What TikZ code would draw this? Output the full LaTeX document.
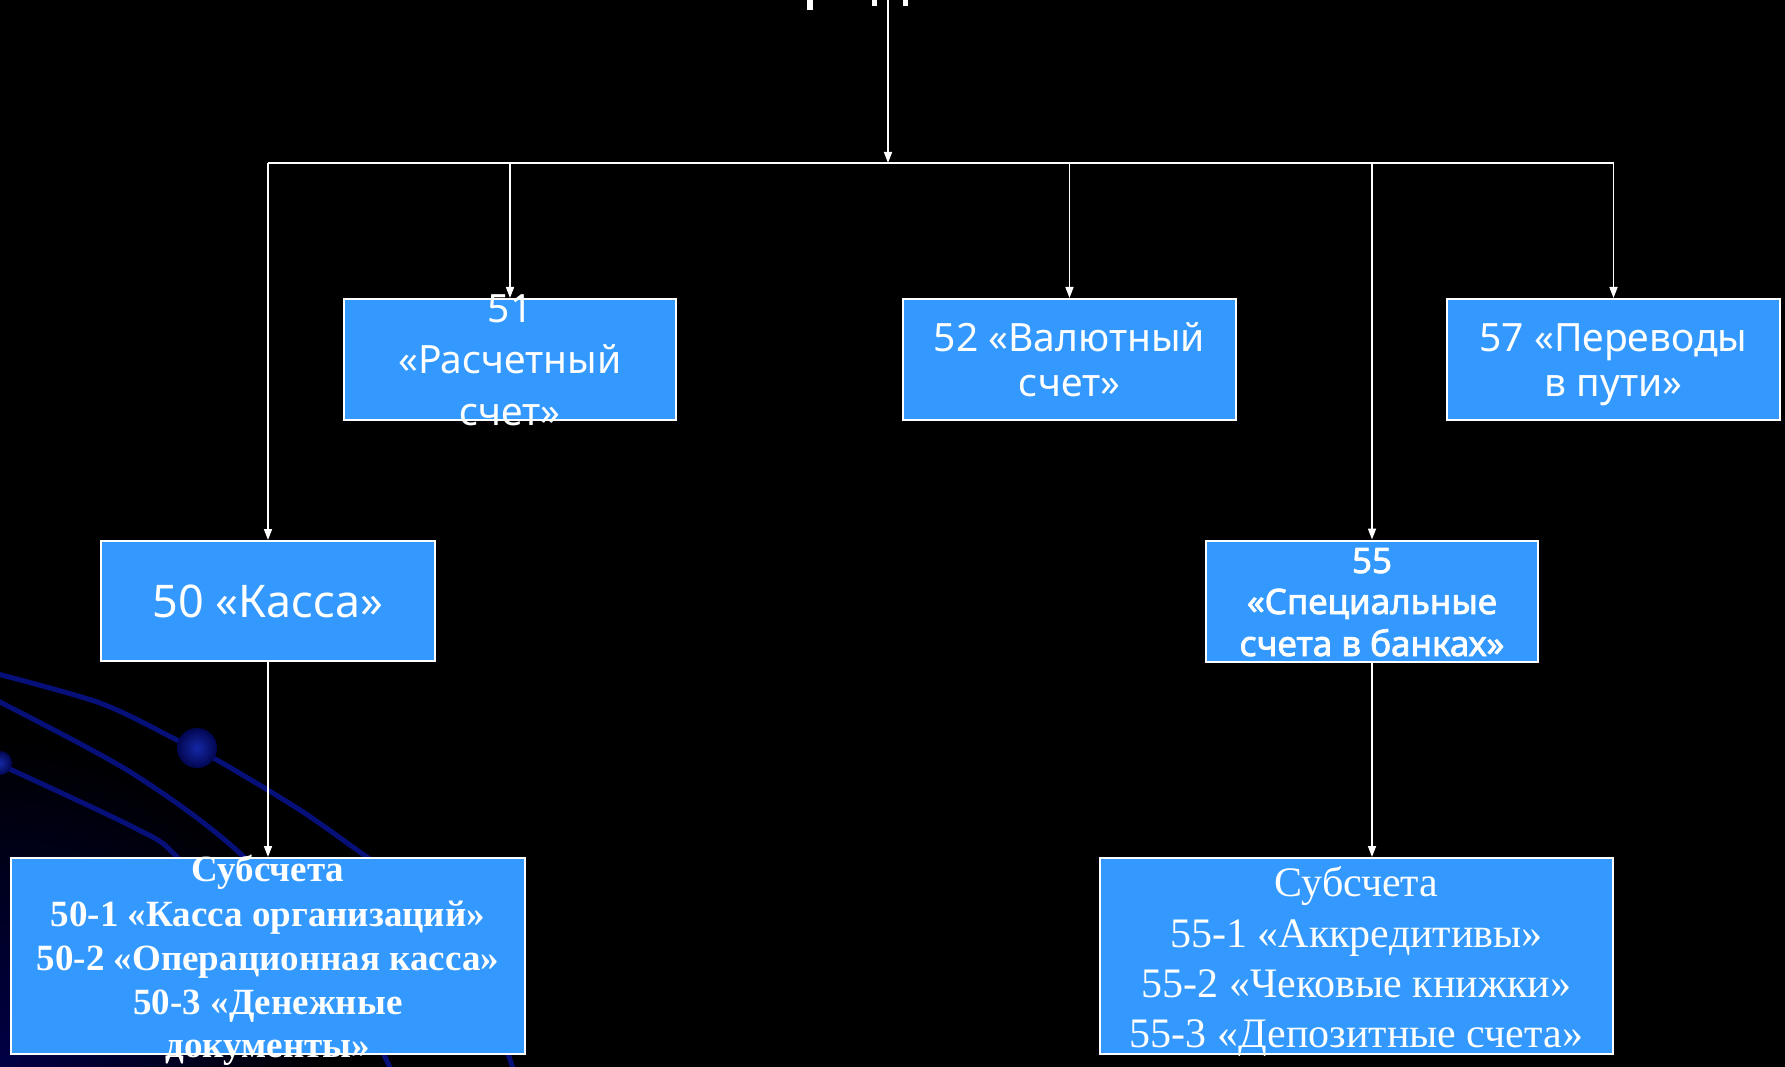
\documentclass[tikz,border=0pt]{standalone}
\usepackage{fontspec}
\setmainfont{Liberation Serif}
\newfontfamily\boxfont{Noto Sans}
\newfontfamily\boxfontb{Noto Sans}[FakeBold=2.2]
\usetikzlibrary{arrows.meta}
\definecolor{boxblue}{RGB}{51,153,255}
\definecolor{arcblue}{RGB}{7,16,120}
\definecolor{navy}{RGB}{0,0,70}
\definecolor{ballblue}{RGB}{20,40,165}
\definecolor{balldark}{RGB}{2,6,80}
\tikzset{
  acct/.style 2 args={draw=white, line width=2pt, fill=boxblue, inner sep=0pt,
    minimum width=#1, minimum height=#2},
  txt/.style={text=white, inner sep=0pt, anchor=base},
  cfont/.style={font=\boxfont\fontsize{39}{46}\selectfont},
  kfont/.style={font=\boxfont\fontsize{45}{52}\selectfont},
  bfont/.style={font=\boxfontb\fontsize{35}{42}\selectfont},
  sfontb/.style={font=\bfseries\fontsize{37}{44}\selectfont},
  sfont/.style={font=\fontsize{42}{50}\selectfont},
  conn/.style={draw=white, line width=1.6pt},
  arr/.style={conn, -{Triangle[length=11pt,width=8pt]}},
  orbit/.style={draw=arcblue, line width=5pt, line cap=round},
}
\begin{document}
\begin{tikzpicture}[x=1pt,y=-1pt]
\useasboundingbox (0,0) rectangle (1785,1067);
% background
\fill[black] (0,0) rectangle (1785,1067);
\shade[inner color=navy, outer color=black] (0,1067) circle[radius=330pt];
% orbits
\draw[orbit] plot[smooth] coordinates {(-10,672) (100,703) (177,740) (217,760) (300,810) (367,857) (420,893) (470,950) (520,1090)};
\draw[orbit] plot[smooth] coordinates {(-10,697) (127,770) (233,847) (330,950) (400,1090)};
\draw[orbit] plot[smooth] coordinates {(-10,760) (133,827) (177,857) (260,960)};
\shade[inner color=ballblue, outer color=balldark] (197,748) circle[radius=20pt];
\shade[inner color=ballblue, outer color=balldark] (0,763) circle[radius=12pt];
% cut-off title fragments
\fill[white] (807,0) rectangle (813,10);
\fill[white] (872,0) rectangle (877,6);
\fill[white] (903,0) rectangle (908,6);
% boxes
\node[acct={332pt}{121pt}] (b51) at (510,359.5) {};
\node[acct={333pt}{121pt}] (b52) at (1069.5,359.5) {};
\node[acct={333pt}{121pt}] (b57) at (1613.5,359.5) {};
\node[acct={334pt}{120pt}] (b50) at (268,601) {};
\node[acct={332pt}{121pt}] (b55) at (1372,601) {};
\node[acct={514pt}{196pt}] (s50) at (268,956) {};
\node[acct={513pt}{196pt}] (s55) at (1356.5,956) {};
% connectors
\coordinate (src) at (888,-2);
\coordinate (bus) at (888,163);
\draw[arr] (src) -- (bus);
\draw[conn] (b50.north |- bus) -- (b57.north |- bus);
\draw[arr] (b50.north |- bus) -- (b50.north);
\draw[arr] (b51.north |- bus) -- (b51.north);
\draw[arr] (b52.north |- bus) -- (b52.north);
\draw[arr] (b55.north |- bus) -- (b55.north);
\draw[arr] (b57.north |- bus) -- (b57.north);
\draw[arr] (b50.south) -- (s50.north -| b50.south);
\draw[arr] (b55.south) -- (s55.north -| b55.south);
% texts
\node[txt,cfont] (t51a) at (510,323) {51};
\node[txt,cfont] (t51b) at (510,373) {«Расчетный};
\node[txt,cfont] (t51c) at (510,425) {счет»};
\node[txt,cfont] (t52a) at (1069.5,351) {52 «Валютный};
\node[txt,cfont] (t52b) at (1069.5,396) {счет»};
\node[txt,cfont] (t57a) at (1613.5,351) {57 «Переводы};
\node[txt,cfont] (t57b) at (1613.5,396) {в пути»};
\node[txt,kfont] (t50a) at (268,617) {50 «Касса»};
\node[txt,bfont] (t55a) at (1372,573) {55};
\node[txt,bfont] (t55b) at (1372,614) {«Специальные};
\node[txt,bfont] (t55c) at (1372,656) {счета в банках»};
\node[txt,sfontb] (s50a) at (268,881) {Субсчета};
\node[txt,sfontb] (s50b) at (268,926) {50-1 «Касса организаций»};
\node[txt,sfontb] (s50c) at (268,970) {50-2 «Операционная касса»};
\node[txt,sfontb] (s50d) at (268,1014) {50-3 «Денежные};
\node[txt,sfontb] (s50e) at (268,1057) {документы»};
\node[txt,sfont] (s55a) at (1356.5,896) {Субсчета};
\node[txt,sfont] (s55b) at (1356.5,947) {55-1 «Аккредитивы»};
\node[txt,sfont] (s55c) at (1356.5,997) {55-2 «Чековые книжки»};
\node[txt,sfont] (s55d) at (1356.5,1047) {55-3 «Депозитные счета»};
\end{tikzpicture}
\end{document}
